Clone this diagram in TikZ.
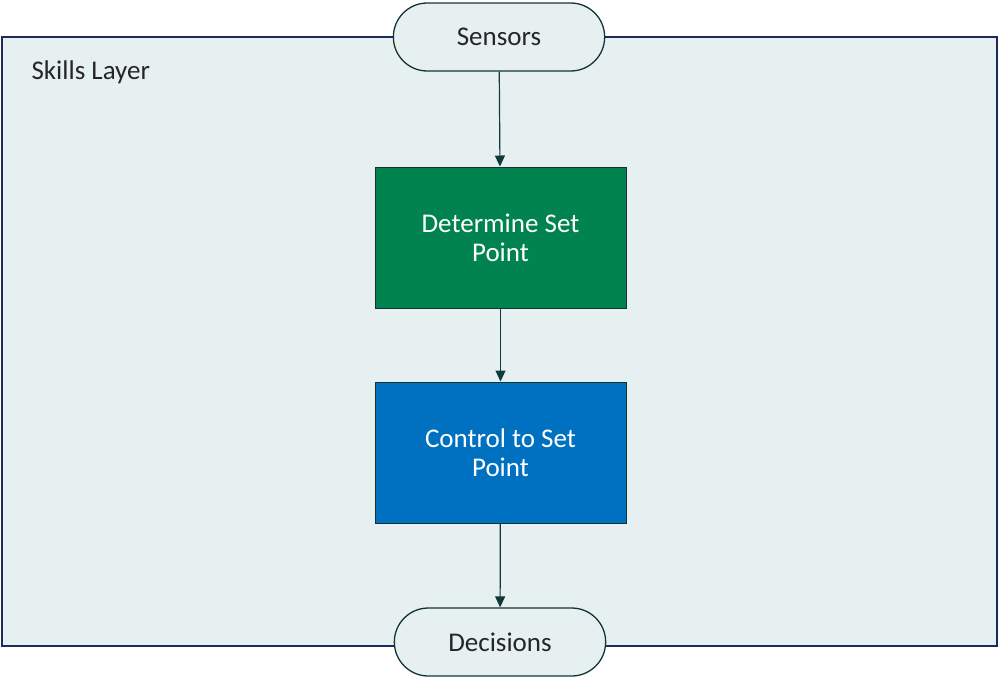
\documentclass[tikz,border=0pt]{standalone}
\usepackage{fontspec}
\setmainfont{Carlito}
\usetikzlibrary{arrows.meta,shapes.misc}
\definecolor{layerfill}{HTML}{E6F0F0}
\definecolor{layerdraw}{HTML}{1F2A5C}
\definecolor{termdraw}{HTML}{143434}
\definecolor{boxgreen}{HTML}{00834E}
\definecolor{boxblue}{HTML}{0070C0}
\definecolor{arrowcol}{HTML}{0F3A3A}
\tikzset{
  terminal/.style={rounded rectangle, draw=termdraw, line width=1.3pt, fill=layerfill,
    minimum width=218pt, minimum height=68pt, font=\fontsize{27}{30}\selectfont, text=black!85},
  procbox/.style={rectangle, draw=termdraw, line width=1pt, minimum width=251pt,
    minimum height=141pt, text=white, align=center,
    font=\fontsize{27}{29}\selectfont},
  flow/.style={draw=arrowcol, line width=1.2pt, -{Triangle[width=10pt,length=11pt]}}
}
\begin{document}
\begin{tikzpicture}[x=1pt,y=-1pt]
\useasboundingbox (0,0) rectangle (1000,678);
\draw[fill=layerfill, draw=layerdraw, line width=1.5pt] (2,37) rectangle (997,646);
\node[anchor=west, font=\fontsize{27}{30}\selectfont, text=black!85] (lbl) at (28,72) {Skills Layer};
\node[terminal] (sens) at (499,37) {Sensors};
\node[procbox, fill=boxgreen] (det) at (500.5,237.5) {Determine Set\\Point};
\node[procbox, fill=boxblue] (ctl) at (500.5,452.5) {Control to Set\\Point};
\node[terminal] (dec) at (500,642) {Decisions};
\draw[flow] (sens) -- (det);
\draw[flow] (det) -- (ctl);
\draw[flow] (ctl) -- (dec);
\end{tikzpicture}
\end{document}
